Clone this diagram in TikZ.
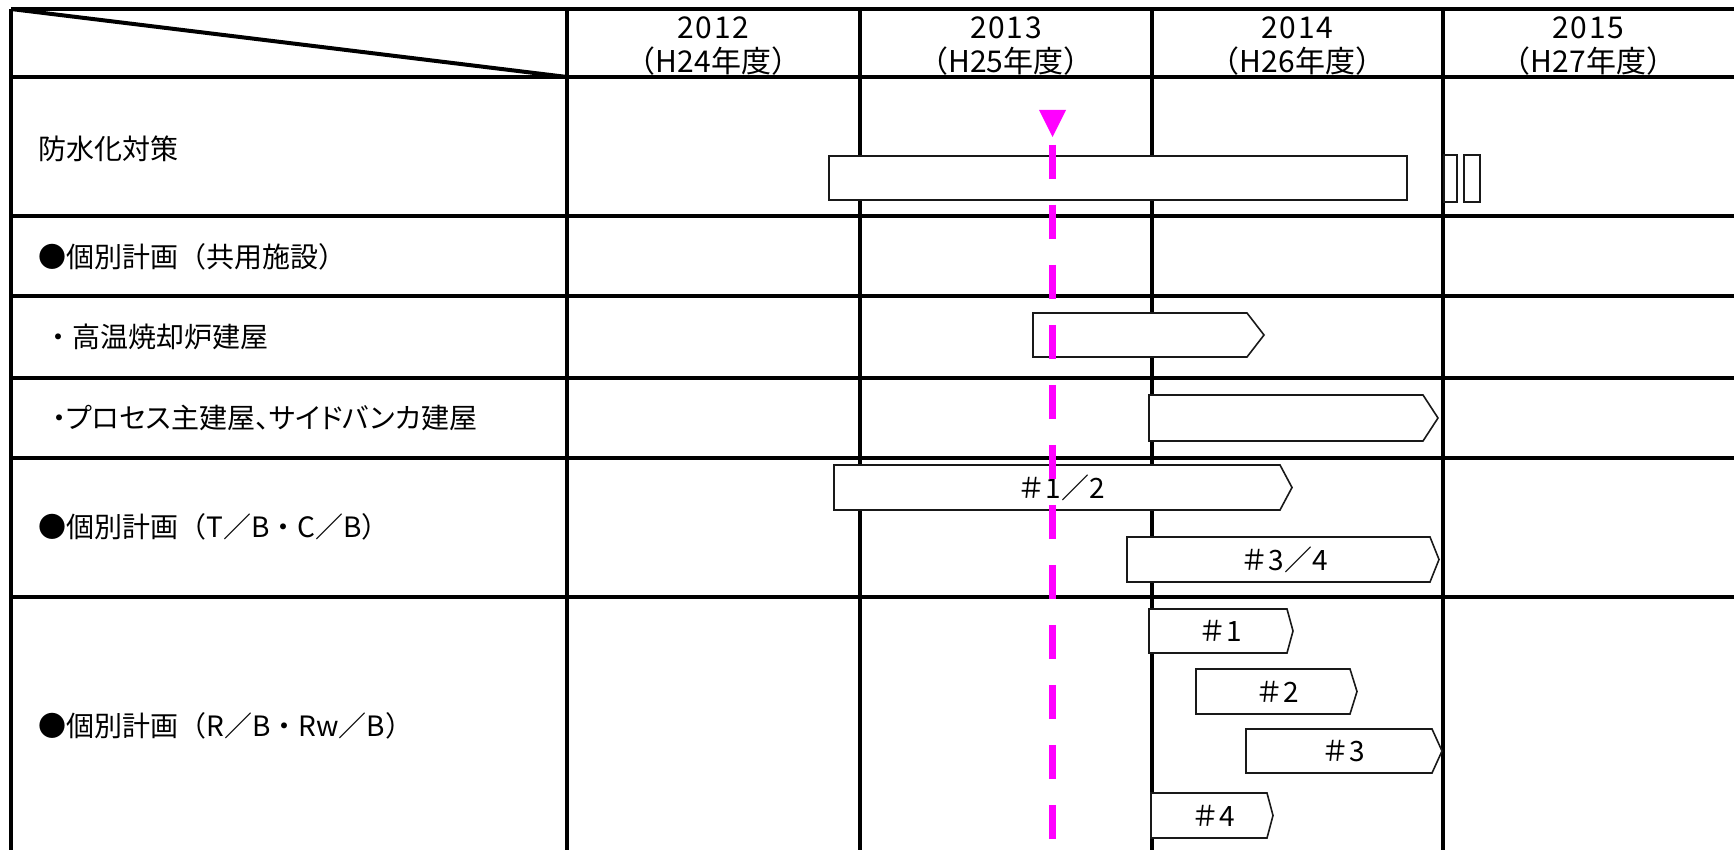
\documentclass[tikz,border=0pt]{standalone}
\usepackage{fontspec}
\setmainfont{Noto Sans CJK JP}
\definecolor{gridcolor}{RGB}{0, 0, 0}
\definecolor{barcolor}{RGB}{25, 25, 25}
\definecolor{nowcolor}{RGB}{255, 0, 255}
\tikzset{
gridline/.style={
  draw=gridcolor,
  line width=1.6pt
},
cornerline/.style={
  draw=gridcolor,
  line width=2pt
},
planbar/.style={
  draw=barcolor,
  fill=white,
  line width=0.8pt,
  line join=miter
},
nowline/.style={
  draw=nowcolor,
  line width=3.75pt,
  dash pattern=on 17pt off 13pt
},
rowlabel/.style={
  anchor=west,
  inner sep=0pt,
  font=\fontsize{14}{16}\selectfont
},
yearlabel/.style={
  inner sep=0pt,
  font=\fontsize{15}{17}\selectfont
},
barlabel/.style={
  inner sep=0pt,
  font=\fontsize{14}{16}\selectfont
}
}

\begin{document}
\begin{tikzpicture}[x=0.5pt, y=-0.5pt]
  \useasboundingbox (0,0) rectangle (1734,850);

  % table grid
  \draw[gridline] (11,9) -- (1734,9);
  \foreach \gy in {77, 216, 296, 378, 458, 597} {
    \draw[gridline] (11,\gy) -- (1734,\gy);
  }
  \foreach \gx in {11, 567, 860, 1152, 1443} {
    \draw[gridline] (\gx,9) -- (\gx,850);
  }
  \draw[cornerline] (11,9) -- (567,77);

  % fiscal years
  \foreach \yr/\hy/\cx in {2012/24/713.5, 2013/25/1006, 2014/26/1297.5, 2015/27/1588.5} {
    \node[yearlabel] (yr\yr) at (\cx,28) {\addfontfeature{LetterSpace=6}\yr};
    \node[yearlabel] (fy\yr) at (\cx,61) {（H\hy 年度）};
  }

  % row titles
  \node[rowlabel] (waterproof) at (38,149) {防水化対策};
  \node[rowlabel] (common) at (38,257) {●個別計画（共用施設）};
  \node[rowlabel] (furnace) at (44,337) {・高温焼却炉建屋};
  \node[rowlabel] (process) at (52,418) {\addfontfeature{RawFeature=+palt}・プロセス主建屋、サイドバンカ建屋};
  \node[rowlabel] (turbine) at (38,527) {●個別計画（T／B・C／B）};
  \node[rowlabel] (reactor) at (38,726) {●個別計画（R／B・Rw／B）};

  % schedule bars
  \draw[planbar] (829,156) rectangle (1407,200);
  \draw[planbar] (1444,155) rectangle (1457,202);
  \draw[planbar] (1464,155) rectangle (1480,202);
  \foreach \xa/\xb/\xt/\ya/\yb/\lx/\lbl [count=\i] in {
    1033/1247/1264/313/357/1150/{},
    1149/1423/1438/395/441/1290/{},
    834/1280/1292/465/510/1061/{＃1／2},
    1127/1430/1439/537/582/1284/{＃3／4},
    1149/1287/1293/609/653/1220/{＃1},
    1196/1350/1357/669/714/1277/{＃2},
    1246/1432/1442/729/773/1343/{＃3},
    1151/1267/1273/793/838/1213/{＃4}
  } {
    \draw[planbar] (\xa,\ya) -- (\xb,\ya) -- (\xt,{(\ya+\yb)/2})
      -- (\xb,\yb) -- (\xa,\yb) -- cycle;
    \node[barlabel] (tag\i) at (\lx,{(\ya+\yb)/2}) {\lbl};
  }

  % current date marker
  \coordinate (nowtop) at (1052.5,145);
  \coordinate (nowend) at (1052.5,850);
  \draw[nowline] (nowtop) -- (nowend);
  \fill[nowcolor] (1039,110) -- (1066,110) -- (1052.5,137) -- cycle;
\end{tikzpicture}
\end{document}
